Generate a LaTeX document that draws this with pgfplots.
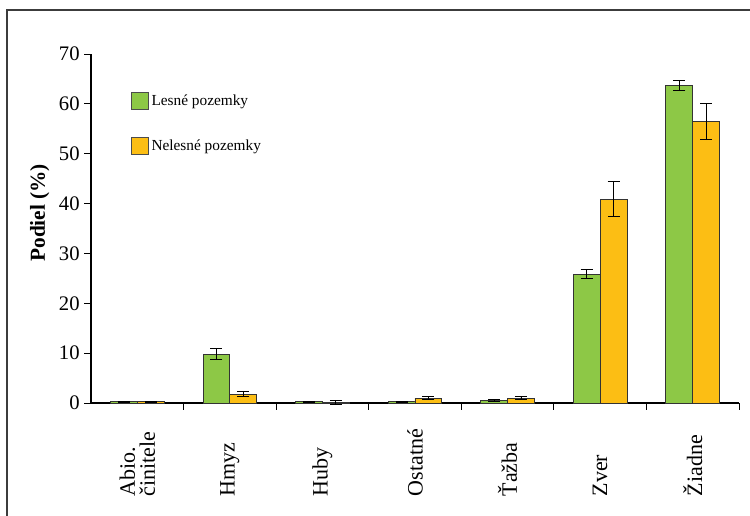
\documentclass[border=0pt]{standalone}
\usepackage{pgfplots}
\pgfplotsset{compat=1.18}
\usepackage{fontspec}
\setmainfont{Liberation Serif}
\definecolor{cgreen}{RGB}{141,200,70}
\definecolor{corange}{RGB}{252,190,20}
\definecolor{frame}{RGB}{60,60,60}
\begin{document}
\begin{tikzpicture}
\useasboundingbox (0pt,0pt) rectangle (562.5pt,-386.25pt);
\draw[frame, line width=1.1pt] (5.25pt,-7.5pt) rectangle (620pt,-440pt);
\begin{axis}[
  at={(68.25pt,-302.25pt)}, anchor=south west,
  scale only axis, width=486pt, height=261.75pt,
  xmin=-0.5, xmax=6.5, ymin=0, ymax=70,
  axis x line*=bottom, axis y line*=left,
  axis line style={black, line width=0.8pt},
  tick align=outside,
  major tick length=5pt,
  tick style={black, line width=0.7pt},
  ytick={0,10,...,70},
  yticklabel style={font=\fontsize{15.5}{17}\selectfont},
  /pgf/number format/assume math mode=true,
  xtick={0.5,1.5,...,6.5}, xticklabels={},
  extra x ticks={0,1,2,3,4,5,6},
  extra x tick labels={{Abio.\\činitele},Hmyz,Huby,Ostatné,Ťažba,Zver,Žiadne},
  extra x tick style={major tick length=0pt},
  xticklabel style={rotate=90, anchor=west, align=left, font=\fontsize{16.5}{15}\selectfont},
  xticklabel shift=73.5pt,
  ylabel={\textbf{Podiel (\%)}},
  ylabel style={at={(axis description cs:-0.079,0.545)}, anchor=center, font=\fontsize{16}{18}\selectfont},
  ybar, bar width=0.29,
  clip=false,
  legend style={at={(axis description cs:0.055,0.9)}, anchor=north west, draw=none, fill=none,
    font=\fontsize{11.5}{13}\selectfont, row sep=20.5pt, cells={anchor=west}},
  legend cell align=left,
]
\addplot+[bar shift=-0.145, fill=cgreen, draw=black!80, line width=0.7pt,
  legend image code/.code={\draw[fill=cgreen, draw=black!70, line width=0.7pt] (0pt,-6.4pt) rectangle (12.75pt,6.4pt);},
  error bars/.cd, y dir=both, y explicit,
  error bar style={black, line width=0.7pt},
  error mark options={rotate=90, mark size=4.5pt, black, line width=0.7pt}]
  table[x=x, y=g, y error=ge] {
x g ge
0 0.3 0.1
1 9.8 1.1
2 0.3 0.1
3 0.3 0.1
4 0.6 0.2
5 25.8 0.9
6 63.7 1.0
};
\addlegendentry{Lesné pozemky}
\addplot+[bar shift=0.145, fill=corange, draw=black!80, line width=0.7pt,
  legend image code/.code={\draw[fill=corange, draw=black!70, line width=0.7pt] (0pt,-6.4pt) rectangle (12.75pt,6.4pt);},
  error bars/.cd, y dir=both, y explicit,
  error bar style={black, line width=0.7pt},
  error mark options={rotate=90, mark size=4.5pt, black, line width=0.7pt}]
  table[x=x, y=o, y error=oe] {
x o oe
0 0.3 0.1
1 1.8 0.5
2 0.05 0.4
3 1.0 0.3
4 1.0 0.3
5 40.9 3.5
6 56.4 3.6
};
\addlegendentry{Nelesné pozemky}
\end{axis}
\end{tikzpicture}
\end{document}
